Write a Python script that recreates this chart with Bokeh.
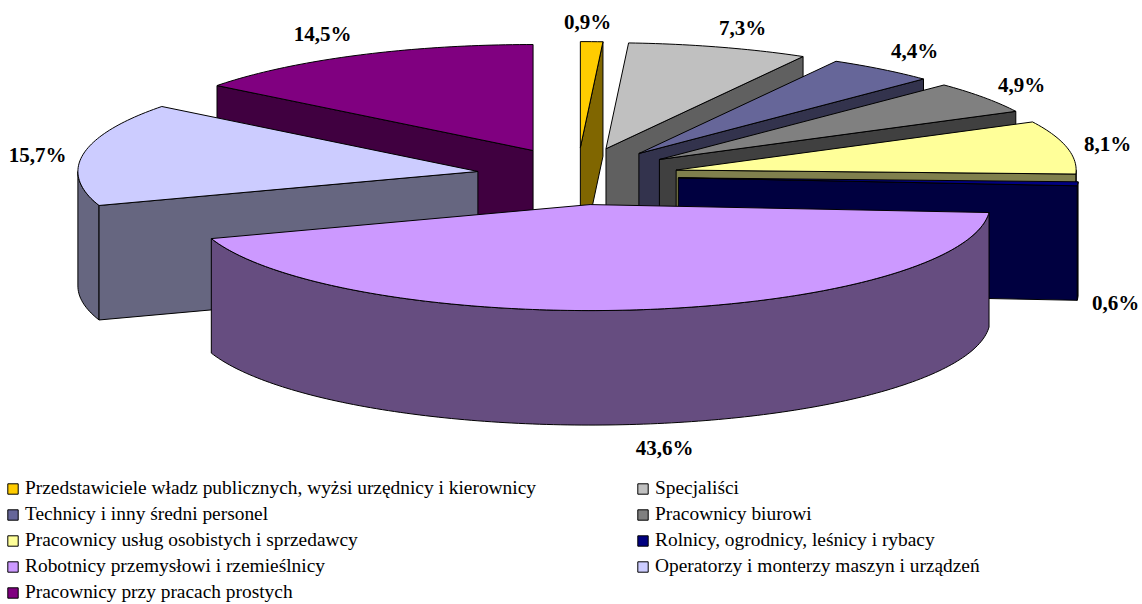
import math
from bokeh.plotting import figure
from bokeh.models import Legend, LegendItem
from bokeh.core.properties import value
from bokeh.embed import file_html
from bokeh.resources import INLINE

categories = [
    "Przedstawiciele władz publicznych, wyżsi urzędnicy i kierownicy",
    "Specjaliści",
    "Technicy i inny średni personel",
    "Pracownicy biurowi",
    "Pracownicy usług osobistych i sprzedawcy",
    "Rolnicy, ogrodnicy, leśnicy i rybacy",
    "Robotnicy przemysłowi i rzemieślnicy",
    "Operatorzy i monterzy maszyn i urządzeń",
    "Pracownicy przy pracach prostych",
]
values = [0.9, 7.3, 4.4, 4.9, 8.1, 0.6, 43.6, 15.7, 14.5]
top_colors = ["#ffcc00", "#c0c0c0", "#666699", "#808080", "#ffff99",
              "#000080", "#cc99ff", "#ccccff", "#800080"]
side_colors = ["#806600", "#606060", "#33334d", "#404040", "#80804d",
               "#000040", "#664d80", "#666680", "#400040"]

label_x = [587, 742, 914, 1021, 1107, 1115, 664, 37, 322]
label_y = [21, 27, 50, 84, 143, 302, 447, 154, 33]

CX, CY, EX, EY = 577.0, 175.7, 101.0, 28.6
A, B, DEPTH = 400.0, 106.0, 114.5
draw_order = [0, 1, 2, 3, 4, 5, 8, 7, 6]

p = figure(width=1142, height=604, output_backend="svg", toolbar_location=None,
           x_range=(0, 1142), y_range=(604, 0), min_border=0,
           outline_line_color=None, x_axis_location=None, y_axis_location=None)
p.grid.visible = False

starts, cum = [], 0.0
for v in values:
    starts.append(cum * 3.6)
    cum += v
ends = [s + v * 3.6 for s, v in zip(starts, values)]


def arc(t0, t1):
    n = max(2, int(abs(t1 - t0)) + 2)
    return [t0 + (t1 - t0) * i / (n - 1) for i in range(n)]


tops = {}
for i in draw_order:
    mid = math.radians((starts[i] + ends[i]) / 2)
    ax = CX + EX * math.sin(mid)
    ay = CY - EY * math.cos(mid)
    rim = lambda d: (ax + A * math.sin(math.radians(d)), ay - B * math.cos(math.radians(d)))
    kw = dict(fill_color=side_colors[i], line_color="black", line_width=1, line_join="round")
    w0, w1 = max(starts[i], 90.0), min(ends[i], 270.0)
    if w1 > w0:
        pts = [rim(d) for d in arc(w0, w1)]
        xs = [q[0] for q in pts]
        ys = [q[1] for q in pts]
        p.patch(xs + xs[::-1], ys + [y + DEPTH for y in ys[::-1]], **kw)
    faces = []
    if math.sin(math.radians(starts[i])) < -1e-6:
        faces.append(starts[i])
    if math.sin(math.radians(ends[i])) > 1e-6:
        faces.append(ends[i])
    for d in faces:
        rx, ry = rim(d)
        p.patch([ax, rx, rx, ax], [ay, ry, ry + DEPTH, ay + DEPTH], **kw)
    pts = [rim(d) for d in arc(starts[i], ends[i])]
    tops[i] = p.patch([ax] + [q[0] for q in pts], [ay] + [q[1] for q in pts],
                      fill_color=top_colors[i], line_color="black", line_width=1,
                      line_join="round")

labels = [f"{v:.1f}%".replace(".", ",") for v in values]
p.text(label_x, label_y, text=labels, text_font=value("Liberation Serif"),
       text_font_style="bold", text_font_size="21px", text_color="black",
       text_align="center", text_baseline="middle")


def make_legend(indices, x, y):
    items = [LegendItem(label=categories[i], renderers=[tops[i]]) for i in indices]
    lg = Legend(items=items, location=(x, y), orientation="vertical",
                label_text_font="Liberation Serif", label_text_font_size="19.4px",
                label_text_color="black", glyph_width=13, glyph_height=13,
                label_height=24, spacing=2, padding=0, margin=0, label_standoff=6,
                border_line_color=None, background_fill_color=None,
                background_fill_alpha=0, click_policy="none")
    p.add_layout(lg)


make_legend([0, 2, 4, 6, 8], 6, 0)
make_legend([1, 3, 5, 7], 636, 26)

open("out.html", "w").write(file_html(p, INLINE))
